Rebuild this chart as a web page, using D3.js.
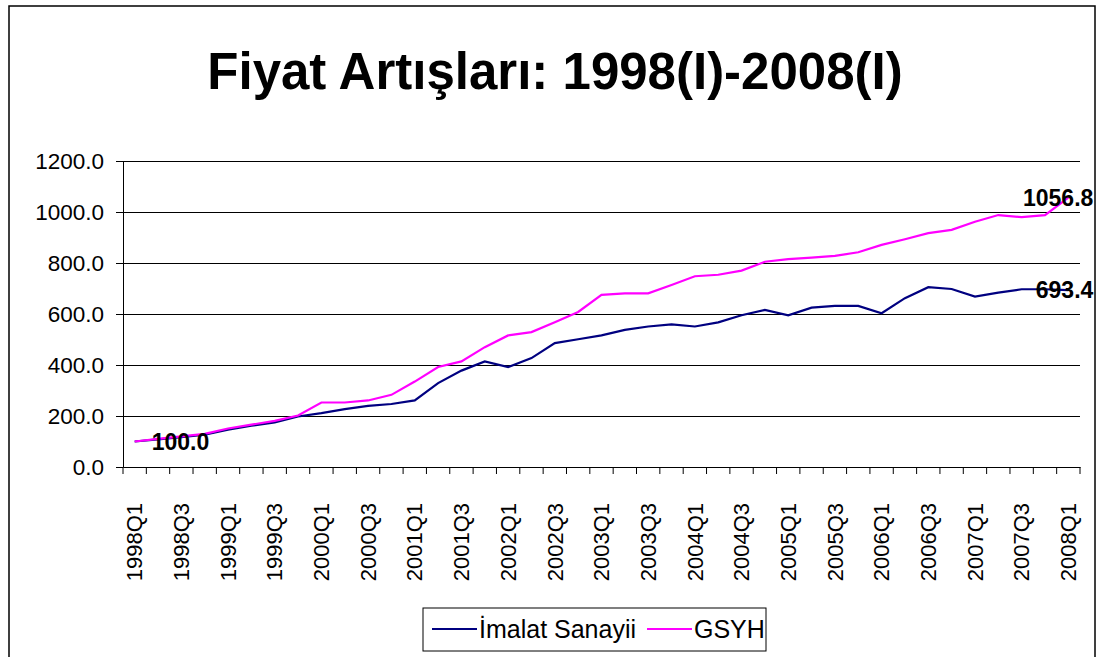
<!DOCTYPE html>
<html>
<head>
<meta charset="utf-8">
<script src="https://cdn.jsdelivr.net/npm/d3@7"></script>
<style>
  body { margin: 0; background: #fff; }
  text { font-family: Arial, "Liberation Sans", sans-serif; }
</style>
</head>
<body>
<div id="wrapper"></div>
<script>
// quarters on the x axis
const quarters = [
  "1998Q1","1998Q2","1998Q3","1998Q4","1999Q1","1999Q2","1999Q3","1999Q4",
  "2000Q1","2000Q2","2000Q3","2000Q4","2001Q1","2001Q2","2001Q3","2001Q4",
  "2002Q1","2002Q2","2002Q3","2002Q4","2003Q1","2003Q2","2003Q3","2003Q4",
  "2004Q1","2004Q2","2004Q3","2004Q4","2005Q1","2005Q2","2005Q3","2005Q4",
  "2006Q1","2006Q2","2006Q3","2006Q4","2007Q1","2007Q2","2007Q3","2007Q4",
  "2008Q1"
]

// İmalat Sanayii
const imalat = [
  100, 108, 117, 127, 146, 162, 175, 198, 211, 227, 240, 247, 261, 329, 378, 414,
  392, 427, 486, 501, 516, 538, 551, 559, 551, 567, 595, 616, 595, 625, 632, 632,
  603, 662, 705, 698, 668, 684, 697, 697, 693.4
]

// GSYH
const gsyh = [
  100, 110, 120, 130, 151, 166, 181, 202, 253, 253, 261, 283, 335, 392, 414, 470,
  516, 529, 568, 608, 675, 681, 681, 714, 748, 754, 770, 805, 815, 821, 828, 842,
  871, 893, 917, 930, 962, 988, 980, 988, 1056.8
]

const yTicks = [0, 200, 400, 600, 800, 1000, 1200]
const title = "Fiyat Artışları: 1998(I)-2008(I)"

const series = [
  { name: "İmalat Sanayii", values: imalat, color: "#000080" },
  { name: "GSYH", values: gsyh, color: "#ff00ff" },
]

function drawChart() {
  const dimensions = {
    width: 1098,
    height: 657,
    margin: { top: 161, right: 18, bottom: 190, left: 123 },
  }
  dimensions.boundedWidth = 1080 - dimensions.margin.left
  dimensions.boundedHeight = 467 - dimensions.margin.top

  const svg = d3.select("#wrapper")
    .append("svg")
      .attr("width", dimensions.width)
      .attr("height", dimensions.height)

  // outer frame
  svg.append("rect")
    .attr("x", 9).attr("y", 6)
    .attr("width", 1086).attr("height", 660)
    .attr("fill", "none")
    .attr("stroke", "#000")
    .attr("stroke-width", 1.5)

  svg.append("text")
    .attr("x", 555).attr("y", 89)
    .attr("text-anchor", "middle")
    .style("font-size", "51px")
    .style("font-weight", "bold")
    .text(title)

  const bounds = svg.append("g")
    .attr("transform", `translate(${dimensions.margin.left},${dimensions.margin.top})`)

  // scales
  const xScale = d3.scaleBand()
    .domain(quarters)
    .range([0, dimensions.boundedWidth])

  const yScale = d3.scaleLinear()
    .domain([0, 1200])
    .range([dimensions.boundedHeight, 0])

  // gridlines
  bounds.append("g")
    .selectAll("line")
    .data(yTicks.filter(d => d > 0))
    .join("line")
      .attr("x1", 0).attr("x2", dimensions.boundedWidth)
      .attr("y1", d => yScale(d)).attr("y2", d => yScale(d))
      .attr("stroke", "#000")
      .attr("stroke-width", 1)
      .attr("shape-rendering", "crispEdges")

  // y axis
  const yAxis = bounds.append("g")
    .call(d3.axisLeft(yScale).tickValues(yTicks).tickFormat(d3.format(".1f")).tickSize(7).tickPadding(12))
  yAxis.select(".domain").attr("stroke", "#000")
  yAxis.selectAll("text")
    .attr("font-family", null)
    .style("font-size", "22.5px")
    .attr("fill", "#000")

  // x axis
  const xAxis = bounds.append("g")
    .attr("transform", `translate(0,${dimensions.boundedHeight})`)
    .call(d3.axisBottom(xScale).tickSize(0).tickFormat(""))
  xAxis.select(".domain").attr("stroke", "#000")

  // category boundary ticks
  bounds.append("g")
    .selectAll("line")
    .data(quarters.concat([null]))
    .join("line")
      .attr("x1", (d, i) => i * xScale.step())
      .attr("x2", (d, i) => i * xScale.step())
      .attr("y1", dimensions.boundedHeight)
      .attr("y2", dimensions.boundedHeight + 7)
      .attr("stroke", "#000")

  // rotated labels every other quarter
  bounds.append("g")
    .selectAll("text")
    .data(quarters.filter((d, i) => i % 2 === 0))
    .join("text")
      .attr("transform", d => `translate(${xScale(d) + xScale.bandwidth() / 2},${dimensions.boundedHeight + 36}) rotate(-90)`)
      .attr("text-anchor", "end")
      .attr("dy", "0.35em")
      .style("font-size", "22px")
      .text(d => d)

  // lines
  const lineGenerator = d3.line()
    .x((d, i) => xScale(quarters[i]) + xScale.bandwidth() / 2)
    .y(d => yScale(d))

  bounds.selectAll(".series")
    .data(series)
    .join("path")
      .attr("class", "series")
      .attr("d", d => lineGenerator(d.values))
      .attr("fill", "none")
      .attr("stroke", d => d.color)
      .attr("stroke-width", 2.2)

  // data labels on first and last points
  const labelStyle = sel => sel
    .style("font-size", "23px")
    .style("font-weight", "bold")
    .attr("dy", "0.35em")

  bounds.append("text")
    .attr("x", xScale(quarters[0]) + xScale.bandwidth() / 2 + 17)
    .attr("y", yScale(imalat[0]))
    .call(labelStyle)
    .text(d3.format(".1f")(imalat[0]))

  const lastQ = quarters[quarters.length - 1]
  series.forEach(s => {
    const v = s.values[s.values.length - 1]
    bounds.append("text")
      .attr("x", xScale(lastQ) + xScale.bandwidth() / 2 + 25)
      .attr("y", yScale(v))
      .attr("text-anchor", "end")
      .call(labelStyle)
      .text(d3.format(".1f")(v))
  })

  // legend
  const legend = svg.append("g")
    .attr("transform", "translate(423,608)")
  legend.append("rect")
    .attr("width", 343).attr("height", 43)
    .attr("fill", "#fff")
    .attr("stroke", "#000")
    .attr("stroke-width", 1)

  const legendX = [9, 224]
  const items = legend.selectAll(".item")
    .data(series)
    .join("g")
      .attr("class", "item")
      .attr("transform", (d, i) => `translate(${legendX[i]},21)`)
  items.append("line")
    .attr("x1", 0).attr("x2", 45)
    .attr("stroke", d => d.color)
    .attr("stroke-width", 2)
  items.append("text")
    .attr("x", 47)
    .attr("dy", "0.35em")
    .style("font-size", "25px")
    .text(d => d.name)
}
drawChart()
</script>
</body>
</html>
